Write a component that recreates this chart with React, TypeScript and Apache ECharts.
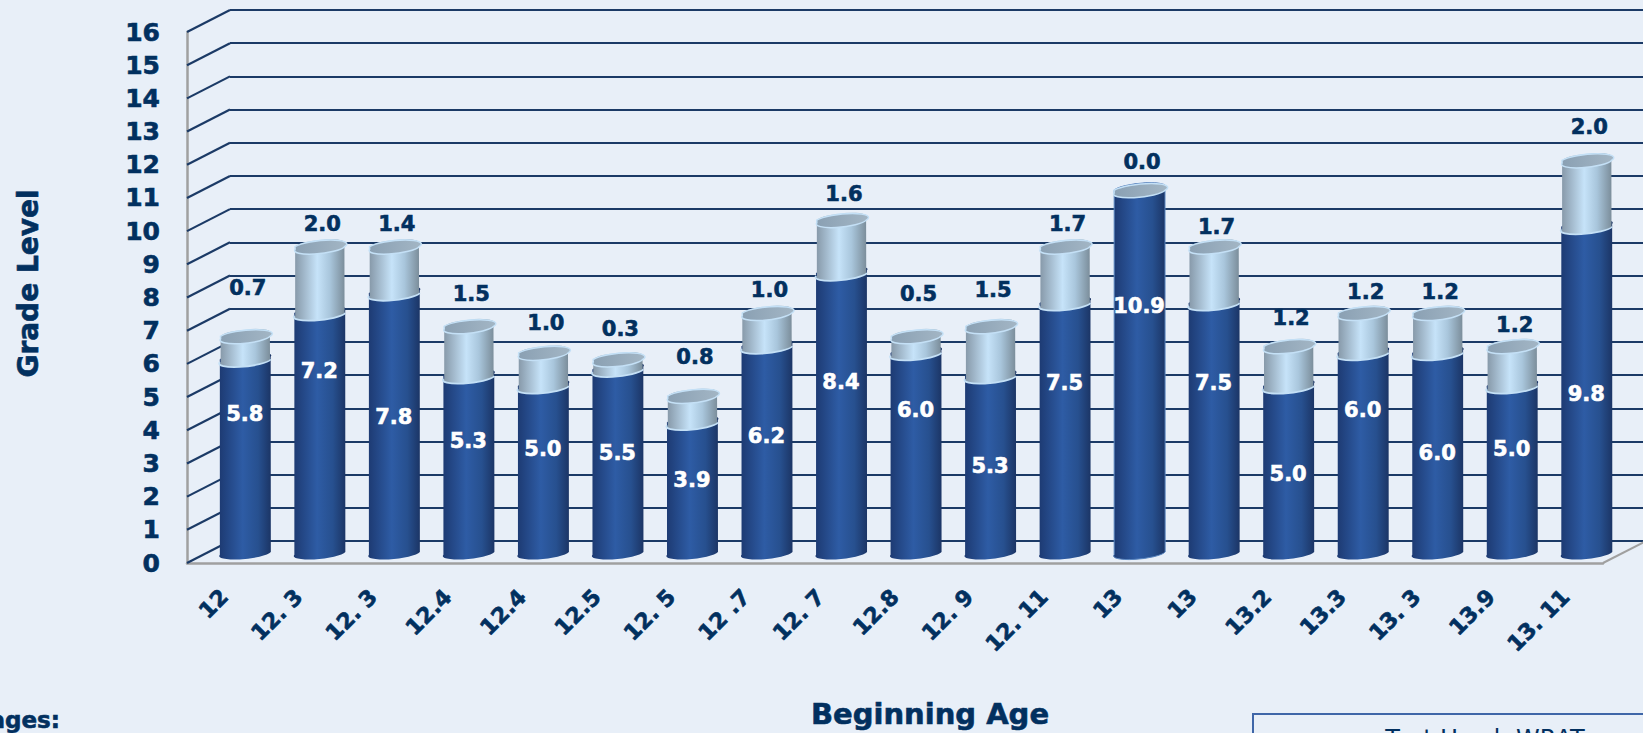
import React, { useEffect, useRef } from "react";
import * as echarts from "echarts";

const categories = ["12", "12. 3", "12. 3", "12.4", "12.4", "12.5", "12. 5", "12 .7", "12. 7", "12.8", "12. 9", "12. 11", "13", "13", "13.2", "13.3", "13. 3", "13.9", "13. 11"];
const beginningLevel = [5.8, 7.2, 7.8, 5.3, 5.0, 5.5, 3.9, 6.2, 8.4, 6.0, 5.3, 7.5, 10.9, 7.5, 5.0, 6.0, 6.0, 5.0, 9.8];
const growth = [0.7, 2.0, 1.4, 1.5, 1.0, 0.3, 0.8, 1.0, 1.6, 0.5, 1.5, 1.7, 0.0, 1.7, 1.2, 1.2, 1.2, 1.2, 2.0];
const levelTicks = [0, 1, 2, 3, 4, 5, 6, 7, 8, 9, 10, 11, 12, 13, 14, 15, 16];

// hand-placed label nudges of the original chart, in pixels
const growthLabelGap = [48, 23, 23, 32, 30, 31, 39, 23, 26, 42, 36, 23, 28, 20, 28, 21, 21, 21, 33];
const levelLabelShift = [-42, -62, -6, -23, -20, -8, -7, -13, -31, -42, 2, -45, -65, -45, 5, -42, 1, -20, 5];

const NAVY = "#02305f";
const GRID = "#1b3a66";
const FONT = '"DejaVu Sans"';
const DEPTH_X = 43;
const DEPTH_Y = -22;
const TILT = 6;
const RY = 5.5;
const BOLDEN = 0.6;

const grad = (stops: [number, string][]) => ({
  type: "linear", x: 0, y: 0, x2: 1, y2: 0,
  colorStops: stops.map(([offset, color]) => ({ offset, color })),
});
const darkFill = grad([[0, "#1d3a72"], [0.45, "#2e5ca5"], [0.75, "#27508f"], [1, "#1b3464"]]);
const lightFill = grad([[0, "#8698a8"], [0.45, "#c6e3f9"], [0.7, "#a9c6dc"], [1, "#7a8c99"]]);
const capFill = grad([[0, "#8aa0b3"], [1, "#a3b6c5"]]);

function ends(cx: number, y: number, rx: number) {
  const rad = (TILT * Math.PI) / 180;
  const dx = rx * Math.cos(rad);
  const dy = rx * Math.sin(rad);
  return { lx: cx - dx, ly: y + dy, rx_: cx + dx, ry_: y - dy };
}
function bodyPath(cx: number, yTop: number, yBottom: number, rx: number) {
  const t = ends(cx, yTop, rx);
  const b = ends(cx, yBottom, rx);
  return (
    `M${t.lx} ${t.ly}L${b.lx} ${b.ly}` +
    `A${rx} ${RY} ${-TILT} 0 0 ${b.rx_} ${b.ry_}` +
    `L${t.rx_} ${t.ry_}` +
    `A${rx} ${RY} ${-TILT} 0 0 ${t.lx} ${t.ly}Z`
  );
}
function seamPath(cx: number, y: number, rx: number) {
  const e = ends(cx, y, rx);
  return `M${e.lx} ${e.ly}A${rx} ${RY} ${-TILT} 0 0 ${e.rx_} ${e.ry_}`;
}
function capPath(cx: number, y: number, rx: number) {
  const e = ends(cx, y, rx);
  return (
    `M${e.lx} ${e.ly}A${rx} ${RY} ${-TILT} 0 0 ${e.rx_} ${e.ry_}` +
    `A${rx} ${RY} ${-TILT} 0 0 ${e.lx} ${e.ly}Z`
  );
}

const renderWall = (params: any, api: any) => {
  const v = api.value(0);
  const cs = params.coordSys;
  const y = api.coord([0, v])[1];
  const children: any[] = [
    {
      type: "line",
      shape: { x1: cs.x, y1: y, x2: cs.x + DEPTH_X, y2: y + DEPTH_Y },
      style: { stroke: GRID, lineWidth: 2.2 },
    },
  ];
  if (v === 0) {
    children.push({
      type: "line",
      shape: { x1: cs.x + cs.width, y1: y, x2: cs.x + cs.width + DEPTH_X, y2: y + DEPTH_Y },
      style: { stroke: "#a0a0a0", lineWidth: 2 },
    });
  }
  return { type: "group", children };
};

const renderCylinder = (_params: any, api: any) => {
  const i = api.value(0);
  const lower = api.value(1);
  const upper = api.value(2);
  const p0 = api.coord([i, 0]);
  const cx = p0[0] + DEPTH_X / 2 - 0.5;
  const y0 = p0[1] + DEPTH_Y / 2;
  const step = api.coord([i, 1])[1] - p0[1];
  const y1 = y0 + lower * step;
  const y2 = y0 + (lower + upper) * step;
  const rx = api.size([1, 0])[0] * 0.343;
  const rxTop = upper > 0 ? rx - 0.8 : rx;
  const edge = "#c4e0f6";
  const children: any[] = [
    { type: "path", shape: { pathData: bodyPath(cx, y1, y0, rx) }, style: { fill: darkFill, stroke: upper > 0 ? "none" : "#5a86c0", lineWidth: 1 } },
  ];
  if (upper > 0) {
    children.push({
      type: "path",
      shape: { pathData: bodyPath(cx, y2, y1, rxTop) },
      style: { fill: lightFill, stroke: "none" },
    });
    children.push({
      type: "path",
      shape: { pathData: seamPath(cx, y1, rx) },
      style: { fill: "none", stroke: edge, lineWidth: 1.8 },
    });
  }
  children.push({
    type: "path",
    shape: { pathData: capPath(cx, y2, rxTop) },
    style: { fill: capFill, stroke: edge, lineWidth: 1.5 },
  });
  return { type: "group", children };
};

const renderLabels = (_params: any, api: any) => {
  const i = api.value(0);
  const lower = api.value(1);
  const upper = api.value(2);
  const p0 = api.coord([i, 0]);
  const cx = p0[0] + DEPTH_X / 2;
  const y0 = p0[1] + DEPTH_Y / 2;
  const step = api.coord([i, 1])[1] - p0[1];
  const font = `bold 21px ${FONT}`;
  return {
    type: "group",
    children: [
      {
        type: "text",
        style: {
          text: lower.toFixed(1), x: cx - 1, y: y0 + (lower * step) / 2 + levelLabelShift[i],
          fill: "#ffffff", stroke: "#ffffff", lineWidth: BOLDEN, font, align: "center", verticalAlign: "middle",
        },
      },
      {
        type: "text",
        style: {
          text: upper.toFixed(1), x: cx + 2, y: y0 + (lower + upper) * step - growthLabelGap[i],
          fill: NAVY, stroke: NAVY, lineWidth: BOLDEN, font, align: "center", verticalAlign: "middle",
        },
      },
    ],
  };
};

export default function App() {
  const ref = useRef<HTMLDivElement>(null);
  useEffect(() => {
    const chart = echarts.init(ref.current!, null, { renderer: "svg" });
    const rows = categories.map((_, i) => [i, beginningLevel[i], growth[i]]);
    const boldText = { color: NAVY, fontFamily: FONT, fontWeight: "bold", textBorderColor: NAVY, textBorderWidth: BOLDEN };
    chart.setOption({
      animation: false,
      backgroundColor: "#e8eff8",
      tooltip: { show: false },
      grid: [
        { left: 187, top: 32, width: 1416, height: 531, outerBoundsMode: "none" },
        { left: 230, top: 10, width: 1416, height: 531, outerBoundsMode: "none" },
      ],
      xAxis: [
        {
          type: "category", gridIndex: 0, data: categories,
          name: "Beginning Age", nameLocation: "middle", nameGap: 136,
          nameTextStyle: { ...boldText, fontSize: 29, padding: [0, 0, 0, 70] },
          axisLine: { show: true, lineStyle: { color: "#a0a0a0", width: 2.5 } },
          axisTick: { show: false },
          axisLabel: { ...boldText, interval: 0, rotate: 45, margin: 30, fontSize: 22, hideOverlap: false },
        },
        { type: "category", gridIndex: 1, data: categories, show: false },
      ],
      yAxis: [
        {
          type: "value", gridIndex: 0, min: 0, max: 16, interval: 1,
          name: "Grade Level", nameLocation: "middle", nameGap: 145, nameRotate: 90,
          nameTextStyle: { ...boldText, fontSize: 28, padding: [0, 0, 0, 28] },
          axisLine: { show: true, lineStyle: { color: "#a0a0a0", width: 2.5 } },
          axisTick: { show: false },
          splitLine: { show: false },
          axisLabel: { ...boldText, margin: 27, fontSize: 25 },
        },
        {
          type: "value", gridIndex: 1, min: 0, max: 16, interval: 1,
          axisLine: { show: false }, axisTick: { show: false }, axisLabel: { show: false },
          splitLine: { show: true, lineStyle: { color: GRID, width: 2.2 } },
        },
      ],
      series: [
        {
          type: "custom", name: "wall", xAxisIndex: 0, yAxisIndex: 0, silent: true,
          data: levelTicks.map((t) => [t]), encode: { y: 0 }, renderItem: renderWall, z: 1,
        },
        {
          type: "custom", name: "Grade Level", xAxisIndex: 0, yAxisIndex: 0, silent: true,
          data: rows, encode: { x: 0, y: [1, 2] }, renderItem: renderCylinder, z: 2,
        },
        {
          type: "custom", name: "labels", xAxisIndex: 0, yAxisIndex: 0, silent: true,
          data: rows, encode: { x: 0, y: [1, 2] }, renderItem: renderLabels, z: 3,
        },
      ],
      graphic: [
        { type: "text", style: { text: "ages:", x: 60, y: 720, fill: NAVY, stroke: NAVY, lineWidth: BOLDEN, font: `bold 23px ${FONT}`, align: "right", verticalAlign: "middle" } },
        { type: "rect", shape: { x: 1253, y: 714, width: 420, height: 60 }, style: { fill: "none", stroke: "#3f66a8", lineWidth: 2 } },
        { type: "text", style: { text: "Test Used: WRAT", x: 1485, y: 727, fill: NAVY, font: `24px ${FONT}`, align: "center", verticalAlign: "top" } },
      ],
    });
    return () => chart.dispose();
  }, []);
  return <div ref={ref} style={{ position: "absolute", left: 0, top: 0, width: 1643, height: 733 }} />;
}
